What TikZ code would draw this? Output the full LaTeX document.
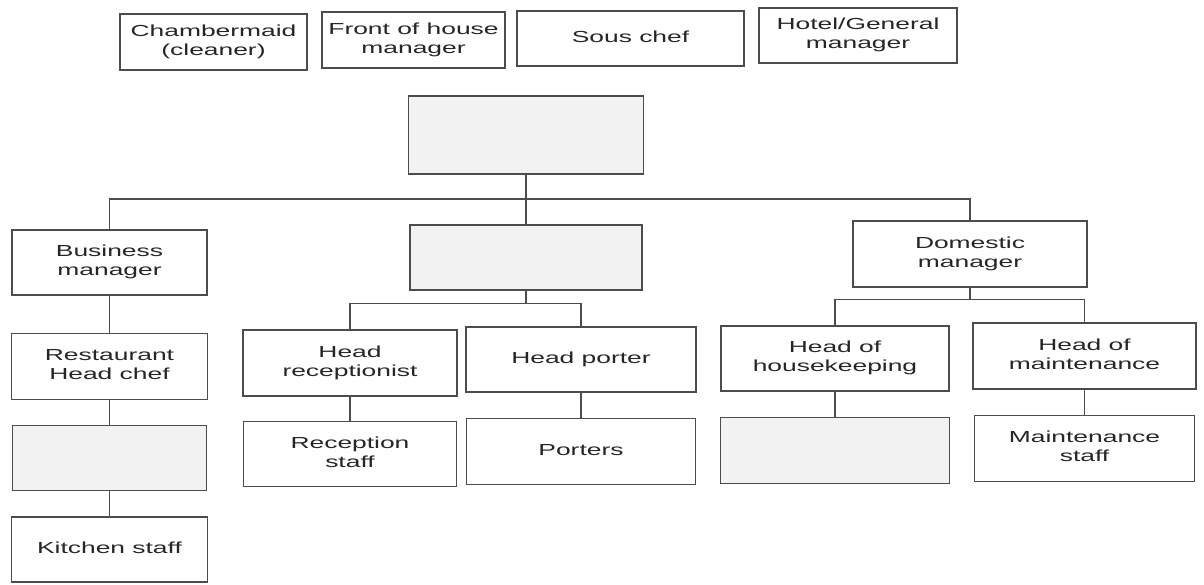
\documentclass[tikz,border=0pt]{standalone}
\usepackage{fontspec}
\setmainfont{Liberation Sans}
\usepackage{graphicx}
\usetikzlibrary{positioning}
\definecolor{lineg}{gray}{0.3}
\definecolor{textg}{gray}{0.15}
\definecolor{blankg}{gray}{0.95}
\newcommand{\wide}[1]{\scalebox{1.65}[1]{\begin{tabular}{@{}c@{}}#1\end{tabular}}}

\begin{document}
\begin{tikzpicture}[
  x=1pt, y=-1pt,
  node distance=25pt,
  post/.style={rectangle, draw=lineg, line width=1.3pt, fill=white, inner sep=2pt,
               font=\fontsize{16}{19}\selectfont, text=textg, align=center},
  blank/.style={post, fill=blankg},
  link/.style={draw=lineg, line width=1.3pt},
]
\useasboundingbox (0,0) rectangle (1204,585);

% loose job titles along the top
\node[post, minimum width=187pt, minimum height=56pt] (maid) at (213.5,42) {\wide{Chambermaid\\(cleaner)}};
\node[post, minimum width=183pt, minimum height=56pt] (foh) at (413.5,40) {\wide{Front of house\\manager}};
\node[post, minimum width=227pt, minimum height=55pt] (sous) at (630.5,38.5) {\wide{Sous chef}};
\node[post, minimum width=198pt, minimum height=55pt] (gm) at (858,35.5) {\wide{Hotel/General\\manager}};

% the chart
\node[blank, minimum width=235pt, minimum height=78pt] (ceo) at (526,135) {};
\node[blank, minimum width=232pt, minimum height=65pt] (mid) at (526,257.5) {};
\node[post, minimum width=195pt, minimum height=65pt] (bm) at (109.5,262.5) {\wide{Business\\manager}};
\node[post, minimum width=234pt, minimum height=66pt] (dm) at (970,254) {\wide{Domestic\\manager}};

\node[post, minimum width=196pt, minimum height=66pt, below=37pt of bm] (chef) {\wide{Restaurant\\Head chef}};
\node[blank, minimum width=194pt, minimum height=65pt, below=of chef] (chefsub) {};
\node[post, minimum width=196pt, minimum height=65pt, below=of chefsub] (kitchen) {\wide{Kitchen staff}};

\node[post, minimum width=214pt, minimum height=66pt] (hr) at (350,363) {\wide{Head\\receptionist}};
\node[post, minimum width=230pt, minimum height=65pt] (hp) at (581,359.5) {\wide{Head porter}};
\node[post, minimum width=228pt, minimum height=65pt] (hk) at (835,358.5) {\wide{Head of\\housekeeping}};
\node[post, minimum width=223pt, minimum height=66pt] (hm) at (1084.5,356) {\wide{Head of\\maintenance}};

\node[post, minimum width=213pt, minimum height=65pt, below=24pt of hr] (rs) {\wide{Reception\\staff}};
\node[post, minimum width=229pt, minimum height=66pt, below=of hp] (porters) {\wide{Porters}};
\node[blank, minimum width=229pt, minimum height=66pt, below=of hk] (hksub) {};
\node[post, minimum width=220pt, minimum height=66pt, below=of hm] (ms) {\wide{Maintenance\\staff}};

% connectors
\draw[link] (ceo) -- (mid);
\coordinate (bar) at (526,199);
\draw[link] (bar) -| (bm);
\draw[link] (bar) -| (dm);
\draw[link] (mid.south) -- ++(0,13) coordinate (midbar);
\draw[link] (midbar) -| (hr);
\draw[link] (midbar) -| (hp);
\draw[link] (dm.south) -- ++(0,12) coordinate (dmbar);
\draw[link] (dmbar) -| (hk);
\draw[link] (dmbar) -| (hm);
\draw[link] (bm) -- (chef);
\draw[link] (chef) -- (chefsub);
\draw[link] (chefsub) -- (kitchen);
\draw[link] (hr) -- (rs);
\draw[link] (hp) -- (porters);
\draw[link] (hk) -- (hksub);
\draw[link] (hm) -- (ms);
\end{tikzpicture}
\end{document}
